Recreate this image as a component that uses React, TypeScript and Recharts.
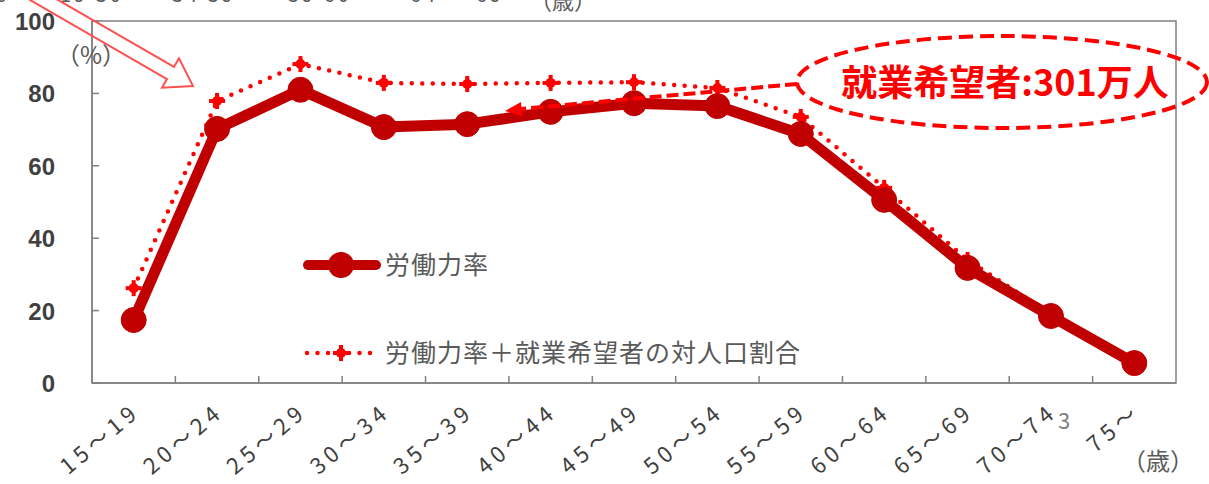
import { LineChart, Line, XAxis, YAxis } from 'recharts';

const ageGroups = ['15～19', '20～24', '25～29', '30～34', '35～39', '40～44', '45～49', '50～54', '55～59', '60～64', '65～69', '70～74', '75～'];
const laborRate = [17.4, 70.2, 81.0, 70.7, 71.5, 74.9, 77.3, 76.5, 68.8, 50.6, 31.8, 18.5, 5.5];
const laborPlusHopeful = [26.2, 77.9, 88.1, 82.9, 82.6, 82.9, 83.1, 81.5, 73.5, 53.9, 34.0, 19.0, 5.6];
const yTicks = [0, 20, 40, 60, 80, 100];

const data = ageGroups.map((age, i) => ({ age, rate: laborRate[i], plus: laborPlusHopeful[i] }));

const W = 1209;
const H = 484;
const M = { top: 21, right: 33, left: 0, bottom: 0 };
const Y_W = 92;
const X_H = 101;
const PLOT_W = W - Y_W - M.right - M.left;
const PLOT_H = H - M.top - X_H - M.bottom;
const BAND = PLOT_W / ageGroups.length;

const CJK = '"Noto Sans CJK JP", "Noto Sans", sans-serif';
const DARK = '#C00000';
const RED = '#FF0000';
const GREY = '#808080';

const YTick = (p: any) => {
  const { x, y, payload } = p;
  return (
    <g>
      <line x1={x} x2={x + 7} y1={y} y2={y} stroke={GREY} strokeWidth={1.5} />
      <text x={x - 37} y={y + 9} textAnchor="end" fontFamily="Liberation Sans, Arial, sans-serif" fontWeight="bold" fontSize={24} fill="#404040">
        {payload.value}
      </text>
    </g>
  );
};

const XTick = (p: any) => {
  const { x, y, payload, index } = p;
  const ax = x + 8;
  const ay = y + 31;
  return (
    <g>
      {index < ageGroups.length - 1 && <line x1={x + BAND / 2} x2={x + BAND / 2} y1={y} y2={y - 7} stroke={GREY} strokeWidth={1.5} />}
      <text x={ax} y={ay} transform={`rotate(-40, ${ax}, ${ay})`} textAnchor="end" fontFamily={CJK} fontSize={22} letterSpacing={5} fill="#404040">
        {payload.value}
      </text>
    </g>
  );
};

const PlusDot = (p: any) => {
  const { cx, cy } = p;
  if (cx == null || cy == null) return null;
  return (
    <g>
      <circle cx={cx} cy={cy} r={5} fill={RED} />
      <rect x={cx - 8} y={cy - 2} width={16} height={4} fill={RED} />
      <rect x={cx - 2} y={cy - 8} width={4} height={16} fill={RED} />
    </g>
  );
};

const legendItems = [
  { name: '労働力率', kind: 'solid' },
  { name: '労働力率＋就業希望者の対人口割合', kind: 'dotted' },
];

// block arrow (outline) pointing at the 20~24 point
const arrowTip = { x: 193, y: 86 };
const ang = (30 * Math.PI) / 180;
const d = { x: Math.cos(ang), y: Math.sin(ang) };
const nrm = { x: -d.y, y: d.x };
const pt = (t: number, s: number) => `${arrowTip.x + d.x * t + nrm.x * s},${arrowTip.y + d.y * t + nrm.y * s}`;
const blockArrow = [pt(-300, -7), pt(-26, -7), pt(-26, -17), pt(0, 0), pt(-26, 17), pt(-26, 7), pt(-300, 7)].join(' ');

export default function App() {
  return (
    <div style={{ position: 'absolute', left: 0, top: 0, width: W, height: H, background: '#fff', overflow: 'hidden' }}>
      <LineChart width={W} height={H} data={data} margin={M}>
        <XAxis
          dataKey="age"
          height={X_H}
          interval={0}
          padding={{ left: BAND / 2, right: BAND / 2 }}
          tickSize={0}
          tickMargin={0}
          stroke={GREY}
          strokeWidth={1.5}
          tick={<XTick />}
        />
        <YAxis domain={[0, 100]} ticks={yTicks} width={Y_W} tickSize={0} tickMargin={0} stroke={GREY} strokeWidth={1.5} tick={<YTick />} />
        <Line
          dataKey="plus"
          name="労働力率＋就業希望者の対人口割合"
          stroke={RED}
          strokeWidth={4.5}
          strokeDasharray="0 10.5"
          strokeLinecap="round"
          dot={<PlusDot />}
          activeDot={false}
          isAnimationActive={false}
        />
        <Line
          dataKey="rate"
          name="労働力率"
          stroke={DARK}
          strokeWidth={11}
          strokeLinejoin="round"
          dot={{ r: 12.5, fill: DARK, stroke: DARK, strokeWidth: 1 }}
          activeDot={false}
          isAnimationActive={false}
        />
      </LineChart>
      <svg width={W} height={H} style={{ position: 'absolute', left: 0, top: 0, pointerEvents: 'none' }}>
        <rect x={Y_W} y={M.top} width={PLOT_W} height={PLOT_H} fill="none" stroke={GREY} strokeWidth={1.5} />
        {legendItems.map((it, i) => {
          const cy = 265 + i * 88;
          return (
            <g key={it.name}>
              {it.kind === 'solid' ? (
                <g>
                  <line x1={308} x2={376} y1={cy} y2={cy} stroke={DARK} strokeWidth={10} strokeLinecap="round" />
                  <circle cx={341} cy={cy} r={13} fill={DARK} />
                </g>
              ) : (
                <g>
                  <line x1={307} x2={373} y1={cy} y2={cy} stroke={RED} strokeWidth={4.5} strokeDasharray="0 10.5" strokeLinecap="round" />
                  <PlusDot cx={341} cy={cy} />
                </g>
              )}
              <text x={385} y={cy + 9} fontFamily={CJK} fontSize={25} letterSpacing={1} fill="#595959">{it.name}</text>
            </g>
          );
        })}
        <g fontFamily={CJK} fill="#595959" fontSize={20}>
          <text x={-4} y={2}>0</text>
          <text x={60} y={2} letterSpacing={3}>19  30</text>
          <text x={172} y={2} letterSpacing={3}>34  39</text>
          <text x={288} y={2} letterSpacing={3}>59  60</text>
          <text x={410} y={2} letterSpacing={3}>64</text>
          <text x={476} y={2} letterSpacing={3}>69</text>
          <text x={530} y={9} fontSize={22}>（歳）</text>
          <text x={56} y={64} fontSize={24}>（%）</text>
          <text x={1122} y={470} fontSize={24}>（歳）</text>
          <text x={1058} y={429} fill="#7f7f7f" fontSize={22}>3</text>
        </g>
        <polygon points={blockArrow} fill="none" stroke="#FF5050" strokeWidth={2} />
        <ellipse cx={1002} cy={82} rx={205} ry={46} fill="none" stroke={RED} strokeWidth={4} strokeDasharray="14 7" />
        <line x1={797} y1={84} x2={520} y2={109} stroke={RED} strokeWidth={4} strokeDasharray="12 5" />
        <polygon points="505,111 521,102 522,116" fill={RED} />
        <text x={1005} y={96} textAnchor="middle" fontFamily={CJK} fontWeight="bold" fontSize={36} fill={RED}>就業希望者:301万人</text>
      </svg>
    </div>
  );
}
